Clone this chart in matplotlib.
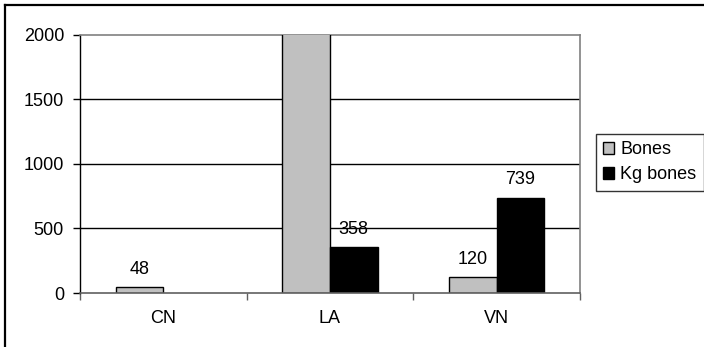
import numpy as np
import matplotlib
matplotlib.use("Agg")
import matplotlib.pyplot as plt
from matplotlib.lines import Line2D
from matplotlib.patches import Patch

plt.rcParams['font.family'] = ['Liberation Sans', 'DejaVu Sans']

categories = ["CN", "LA", "VN"]
bones = [48, 2200, 120]
kg_bones = [np.nan, 358, 739]
series_names = ["Bones", "Kg bones"]
y_ticks = [0, 500, 1000, 1500, 2000]

W, H, DPI = 704, 347, 100
fig = plt.figure(figsize=(W / DPI, H / DPI), dpi=DPI)
ax = fig.add_axes([80 / W, 1 - 293 / H, 500 / W, (293 - 34.6) / H])

x = np.arange(len(categories))
w = 1 / 3.5  # gap width 150%
gray = "#C0C0C0"
ax.bar(x - w / 2, bones, w, color=gray, edgecolor="black", linewidth=1, zorder=3)
ax.bar(x + w / 2, kg_bones, w, color="black", edgecolor="black", linewidth=1, zorder=3)

fs = 13
for xs, vals in ((x - w / 2, bones), (x + w / 2, kg_bones)):
    for xi, v in zip(xs, vals):
        if np.isnan(v):
            continue
        ax.annotate(f"{v:g}", xy=(xi, v), xytext=(0, 9.5), textcoords="offset points",
                    ha="center", va="baseline", fontsize=fs, annotation_clip=True)

ax.set_xlim(-0.5, len(categories) - 0.5)
ax.set_ylim(0, 2000)
ax.set_yticks(y_ticks)
ax.set_yticklabels([str(t) for t in y_ticks], fontsize=fs)
for t in y_ticks[1:-1]:
    ax.axhline(t, color="black", linewidth=1, zorder=1)

ax.set_xticks(x)
ax.set_xticklabels(categories, fontsize=fs)
ax.tick_params(axis="x", length=0, pad=12)
ax.set_xticks(np.arange(len(categories) + 1) - 0.5, minor=True)
ax.tick_params(axis="x", which="minor", length=5, width=1, color="#606060", direction="out")
ax.tick_params(axis="y", length=5, width=1, color="black", direction="out", pad=6.5)

for side in ("top", "right"):
    ax.spines[side].set_color("#808080")
    ax.spines[side].set_linewidth(1.2)
ax.spines["left"].set_color("black")
ax.spines["left"].set_linewidth(1)
ax.spines["bottom"].set_color("#606060")
ax.spines["bottom"].set_linewidth(1.2)
ax.spines["bottom"].set_zorder(4)

handles = [Patch(facecolor=gray, edgecolor="black", linewidth=1),
           Patch(facecolor="black", edgecolor="black", linewidth=1)]
leg = fig.legend(handles, series_names, loc="upper left",
                 bbox_to_anchor=(596 / W, 1 - 134 / H), fontsize=fs,
                 frameon=True, fancybox=False, handlelength=0.6, handleheight=0.6,
                 handletextpad=0.35, borderpad=0.4, labelspacing=0.45, borderaxespad=0)
leg.get_frame().set_edgecolor("black")
leg.get_frame().set_linewidth(1)

# outer chart frame (top and left edges)
fig.add_artist(Line2D([5 / W, 1], [1 - 5 / H, 1 - 5 / H], transform=fig.transFigure,
                      color="black", linewidth=1.6))
fig.add_artist(Line2D([5 / W, 5 / W], [0, 1 - 5 / H], transform=fig.transFigure,
                      color="black", linewidth=1.6))

fig.savefig("out.png", dpi=DPI)
